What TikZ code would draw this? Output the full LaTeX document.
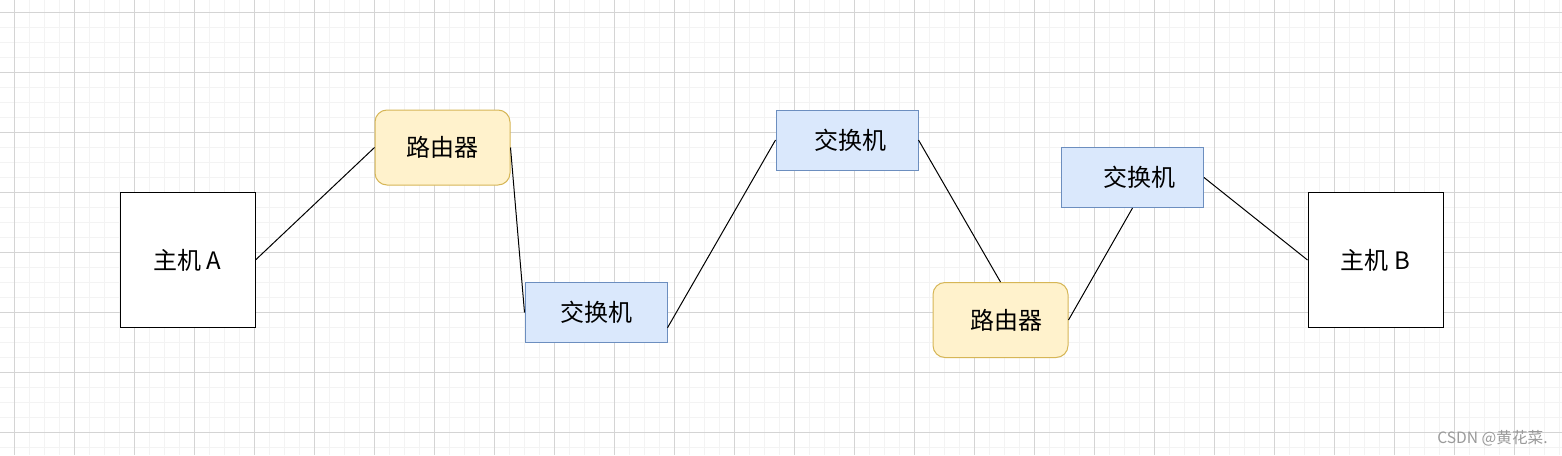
\documentclass[tikz,border=0pt]{standalone}
\usepackage{fontspec}
\setmainfont{Noto Sans CJK SC}
\usetikzlibrary{calc}
\definecolor{gridminor}{HTML}{F3F3F3}
\definecolor{gridmajor}{HTML}{D4D4D4}
\definecolor{routerfill}{HTML}{FFF2CC}
\definecolor{routerdraw}{HTML}{D6B656}
\definecolor{switchfill}{HTML}{DAE8FC}
\definecolor{switchdraw}{HTML}{6C8EBF}
\definecolor{wmark}{HTML}{9A9A9A}

\tikzset{
  host/.style={draw, fill=white, line width=0.5pt, minimum width=67.5pt,
    minimum height=67.5pt, inner sep=0pt, font=\fontsize{12}{14}\selectfont},
  router/.style={draw=routerdraw, fill=routerfill, line width=0.5pt,
    rounded corners=6pt, minimum width=67.5pt, minimum height=37.5pt,
    inner sep=0pt, font=\fontsize{12}{14}\selectfont},
  switch/.style={draw=switchdraw, fill=switchfill, line width=0.5pt,
    minimum width=71pt, minimum height=30pt, inner sep=0pt,
    font=\fontsize{12}{14}\selectfont},
  link/.style={line width=0.5pt, draw=black}
}

\begin{document}
\begin{tikzpicture}[x=0.5pt, y=-0.5pt]
  \useasboundingbox (0,0) rectangle (1562,455);
  \fill[white] (0,0) rectangle (1562,455);

  % Grid
  \foreach \gx in {-1,14,...,1562} \draw[gridminor, line width=0.5pt] (\gx,0) -- (\gx,455);
  \foreach \gy in {-3,12,...,455} \draw[gridminor, line width=0.5pt] (0,\gy) -- (1562,\gy);
  \foreach \gx in {14,74,...,1562} \draw[gridmajor, line width=0.5pt] (\gx,0) -- (\gx,455);
  \foreach \gy in {12,72,...,455} \draw[gridmajor, line width=0.5pt] (0,\gy) -- (1562,\gy);

  % Hosts
  \node[host] (hostA) at (187.5,260) {主机 A};
  \node[host] (hostB) at (1375.5,260) {主机 B};

  % Routers
  \node[router] (r1) at (442.5,147.5) {路由器};
  \node[router] (r2) at (1000.5,320) {\hspace*{6pt}路由器};

  % Switches
  \node[switch] (s1) at (596,312.5) {交换机};
  \node[switch] (s2) at (847,140) {\hspace*{3pt}交换机};
  \node[switch] (s3) at (1132.5,177.5) {\hspace*{7pt}交换机};

  % Links
  \draw[link] (hostA.east) -- (r1.west);
  \draw[link] (r1.east) -- (s1.west);
  \draw[link] ($(s1.south east)!0.25!(s1.north east)$) -- (s2.west);
  \draw[link] (s2.east) -- (r2.north);
  \draw[link] (r2.east) -- (s3.south);
  \draw[link] (s3.east) -- (hostB.west);

  % Watermark
  \node[wmark, anchor=east, inner sep=0pt, font=\fontsize{7.8}{9}\selectfont] (wm) at (1548,438) {CSDN @黄花菜.};
\end{tikzpicture}
\end{document}
